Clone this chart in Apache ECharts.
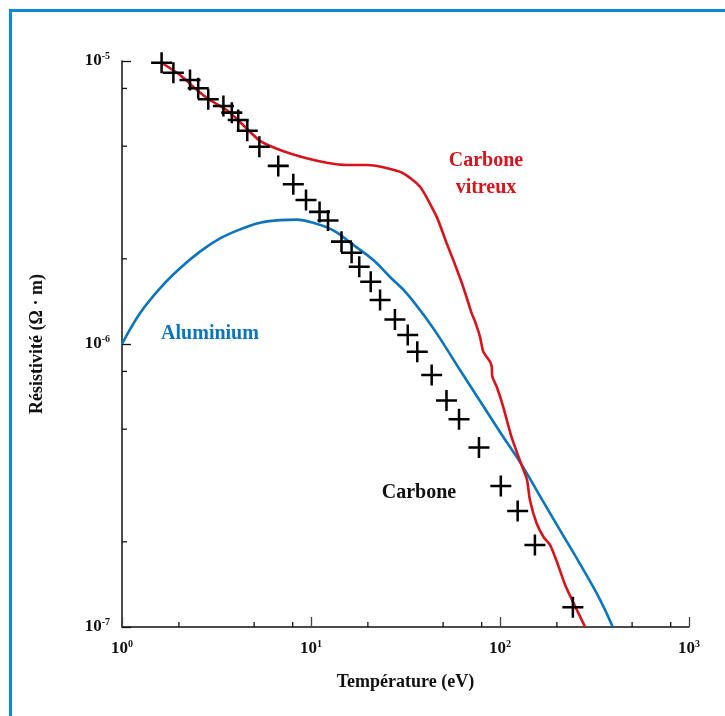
<!DOCTYPE html>
<html>
<head>
<meta charset="utf-8">
<style>
  html, body { margin: 0; padding: 0; background: #fff; }
  #chart { width: 725px; height: 716px; }
</style>
<script src="https://cdn.jsdelivr.net/npm/echarts@6/dist/echarts.min.js"></script>
</head>
<body>
<div id="chart"></div>
<script>
// ---- Data ----
const tempCarbone = [1.62, 1.87, 2.29, 2.53, 2.86, 3.44, 3.81, 4.12, 4.60, 5.33, 6.71, 8.06, 9.41, 11.1, 12.3, 14.5, 16.4, 18.0, 20.7, 23.2, 27.8, 32.5, 36.5, 43.5, 52.1, 60.7, 77.4, 101, 124, 153, 243];
const rhoCarbone = [9.86e-6, 9.09e-6, 8.57e-6, 8.01e-6, 7.32e-6, 6.93e-6, 6.57e-6, 6.19e-6, 5.67e-6, 4.98e-6, 4.26e-6, 3.67e-6, 3.23e-6, 2.93e-6, 2.73e-6, 2.30e-6, 2.10e-6, 1.875e-6, 1.66e-6, 1.43e-6, 1.22e-6, 1.076e-6, 9.39e-7, 7.77e-7, 6.32e-7, 5.42e-7, 4.31e-7, 3.15e-7, 2.57e-7, 1.95e-7, 1.174e-7];

const tempVitreux = [1.62, 2.03, 2.49, 2.92, 3.58, 4.21, 5.37, 6.86, 9.49, 12.1, 15.5, 19.7, 24.1, 30.8, 37.7, 46.2, 52.2, 56.6, 63.9, 70.9, 73.8, 78.4, 81.6, 88.5, 90.4, 91.1, 96.1, 104, 115, 130, 139, 144, 156, 170, 184, 200, 221, 240, 265, 282];
const rhoVitreux = [9.86e-6, 8.92e-6, 7.90e-6, 7.28e-6, 6.71e-6, 6.09e-6, 5.22e-6, 4.85e-6, 4.53e-6, 4.37e-6, 4.29e-6, 4.29e-6, 4.21e-6, 4.01e-6, 3.60e-6, 2.82e-6, 2.27e-6, 1.98e-6, 1.59e-6, 1.28e-6, 1.20e-6, 1.06e-6, 9.39e-7, 8.66e-7, 8.31e-7, 7.66e-7, 7.06e-7, 6.00e-7, 4.70e-7, 3.74e-7, 3.31e-7, 2.81e-7, 2.33e-7, 2.08e-7, 1.95e-7, 1.70e-7, 1.41e-7, 1.25e-7, 1.09e-7, 1.0e-7];

const tempAlu = [1.0, 1.245, 1.589, 2.027, 2.586, 3.301, 4.21, 5.373, 6.855, 8.40, 10.28, 13.12, 16.74, 21.36, 26.18, 32.09, 42.63, 48.14, 61.42, 78.40, 100, 130.3, 162.8, 207.7, 265.0, 338.1, 394.8];
const rhoAlu = [1e-6, 1.284e-6, 1.573e-6, 1.851e-6, 2.12e-6, 2.36e-6, 2.54e-6, 2.68e-6, 2.74e-6, 2.75e-6, 2.68e-6, 2.52e-6, 2.24e-6, 1.98e-6, 1.725e-6, 1.51e-6, 1.18e-6, 1.047e-6, 8.09e-7, 6.29e-7, 4.89e-7, 3.74e-7, 2.90e-7, 2.20e-7, 1.67e-7, 1.25e-7, 1e-7];

const xMinorTicks = [2, 5, 8, 20, 50, 80, 200, 500, 800];
const yMinorTicks = [2e-7, 5e-7, 8e-7, 2e-6, 5e-6, 8e-6];

const xRange = [1, 1000];
const yRange = [1e-7, 1e-5];

const labelsText = {
  vitreux: 'Carbone\nvitreux',
  alu: 'Aluminium',
  carbone: 'Carbone',
  xName: 'Température (eV)',
  yName: 'Résistivité (Ω · m)'
};

// ---- Build ----
const zip = (a, b) => a.map((v, i) => [v, b[i]]);
const SERIF = '"Liberation Serif", "DejaVu Serif", serif';
const RED = '#d7141c';
const BLUE = '#0a74be';
const FRAME = '#0d8ad0';

const plusPath = 'path://M8.8,0 H11.2 V8.8 H20 V11.2 H11.2 V20 H8.8 V11.2 H0 V8.8 H8.8 Z';

function powLabel(v) {
  const e = Math.round(Math.log10(v));
  return '{b|10}{s|' + e + '}';
}
const richLbl = {
  b: { fontFamily: SERIF, fontWeight: 'bold', fontSize: 17, color: '#111', lineHeight: 20 },
  s: { fontFamily: SERIF, fontWeight: 'bold', fontSize: 10, color: '#111', lineHeight: 20, verticalAlign: 'top', padding: [0, 0, 7, 0] }
};

const chart = echarts.init(document.getElementById('chart'), null, { renderer: 'canvas' });
chart.setOption({
  animation: false,
  backgroundColor: '#fff',
  grid: { left: 122, right: 36, top: 61, bottom: 89, containLabel: false },
  xAxis: {
    type: 'log', logBase: 10, min: xRange[0], max: xRange[1],
    name: labelsText.xName, nameLocation: 'middle', nameGap: 46,
    nameTextStyle: { fontFamily: SERIF, fontWeight: 'bold', fontSize: 18, color: '#111' },
    axisLine: { show: true, lineStyle: { color: '#111', width: 1.5 } },
    axisTick: { show: true, inside: true, length: 10, lineStyle: { color: '#444', width: 1.3 } },
    axisLabel: { formatter: powLabel, rich: richLbl, margin: 12 },
    splitLine: { show: false },
    minorTick: { show: false }
  },
  yAxis: {
    type: 'log', logBase: 10, min: yRange[0], max: yRange[1],
    name: labelsText.yName, nameLocation: 'middle', nameGap: 76, nameRotate: 90,
    nameTextStyle: { fontFamily: SERIF, fontWeight: 'bold', fontSize: 18, color: '#111' },
    axisLine: { show: true, lineStyle: { color: '#111', width: 1.5 } },
    axisTick: { show: true, inside: true, length: 9, lineStyle: { color: '#111', width: 1.3 } },
    axisLabel: { formatter: powLabel, rich: richLbl, margin: 12 },
    splitLine: { show: false },
    minorTick: { show: false }
  },
  series: [
    {
      name: 'xMinor', type: 'scatter', silent: true, clip: false,
      data: xMinorTicks.map(v => [v, yRange[0]]),
      symbol: 'rect', symbolSize: [1.3, 5], symbolOffset: [0, -2.5],
      itemStyle: { color: '#111', opacity: 1 }, z: 5
    },
    {
      name: 'yMinor', type: 'scatter', silent: true, clip: false,
      data: yMinorTicks.map(v => [xRange[0], v]),
      symbol: 'rect', symbolSize: [5, 1.3], symbolOffset: [2.5, 0],
      itemStyle: { color: '#111', opacity: 1 }, z: 5
    },
    {
      name: 'Aluminium', type: 'line', data: zip(tempAlu, rhoAlu),
      showSymbol: false, smooth: 0.4, clip: true,
      lineStyle: { color: BLUE, width: 2.6 }
    },
    {
      name: 'Carbone vitreux', type: 'line', data: zip(tempVitreux, rhoVitreux),
      showSymbol: false, smooth: 0.2, clip: true,
      lineStyle: { color: RED, width: 2.6 }
    },
    {
      name: 'Carbone', type: 'scatter', data: zip(tempCarbone, rhoCarbone),
      symbol: plusPath, symbolSize: 21,
      itemStyle: { color: '#000', opacity: 1 }, z: 4
    }
  ],
  graphic: [
    {
      type: 'rect', left: 8, top: 8, silent: true,
      shape: { width: 760, height: 760 },
      style: { fill: 'none', stroke: FRAME, lineWidth: 3 }
    },
    {
      type: 'text', x: 486, y: 174, silent: true,
      style: { text: labelsText.vitreux, fill: RED, font: 'bold 20px ' + SERIF, align: 'center', verticalAlign: 'middle', lineHeight: 27 }
    },
    {
      type: 'text', x: 210, y: 334, silent: true,
      style: { text: labelsText.alu, fill: BLUE, font: 'bold 20px ' + SERIF, align: 'center', verticalAlign: 'middle' }
    },
    {
      type: 'text', x: 419, y: 493, silent: true,
      style: { text: labelsText.carbone, fill: '#111', font: 'bold 20px ' + SERIF, align: 'center', verticalAlign: 'middle' }
    }
  ]
});
</script>
</body>
</html>
